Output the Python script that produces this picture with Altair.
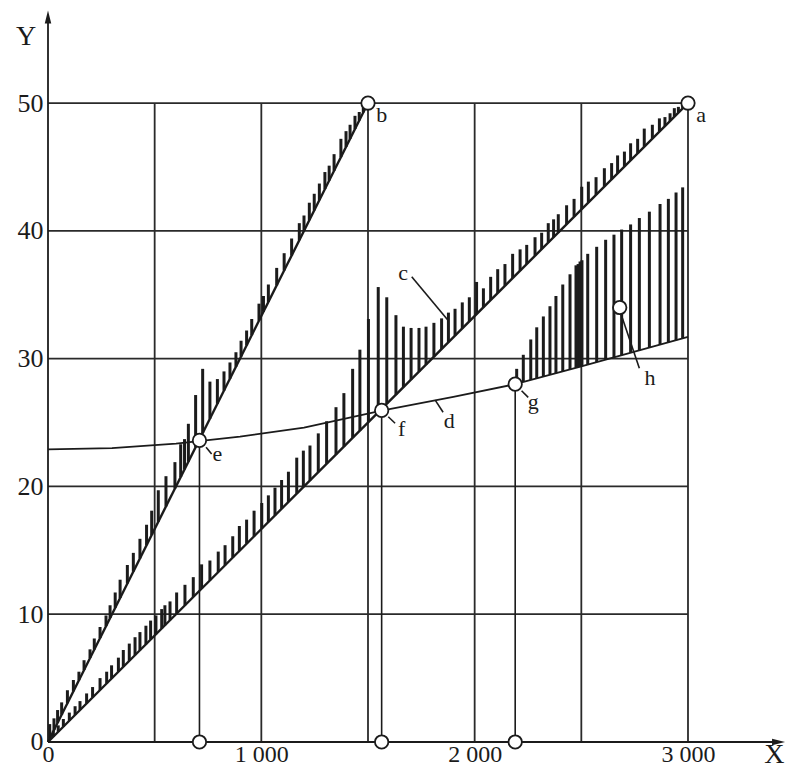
import altair as alt
import pandas as pd

# ---------------- data ----------------
grid_x = [500, 1000, 1500, 2000, 2500, 3000]
grid_y = [10, 20, 30, 40, 50]
x_ticks = [0, 1000, 2000, 3000]
y_ticks = [0, 10, 20, 30, 40, 50]
X_MAX, Y_MAX = 3000, 50
X_AXIS_END, Y_AXIS_END = 3455, 57.25

line_b_x = [0, 1500]
line_b_y = [0, 50]
line_a_x = [0, 3000]
line_a_y = [0, 50]

d_x = [0, 300, 600, 900, 1200, 1564, 1900, 2190, 2500, 2750, 3000]
d_y = [22.9, 23.0, 23.35, 23.9, 24.6, 25.93, 27.0, 28.0, 29.4, 30.55, 31.7]

# hatch bars standing on line 0-b
ub_x = [8, 28, 45, 64, 91, 119, 145, 169, 197, 217, 244, 272, 291, 315, 338, 372, 400, 431,
        462, 486, 517, 553, 595, 622, 640, 658, 692, 725, 759, 794, 825, 853, 881, 905, 931,
        955, 989, 1010, 1033, 1072, 1107, 1142, 1178, 1200, 1225, 1248, 1272, 1298, 1318,
        1341, 1373, 1397, 1416, 1439, 1459, 1478]
ub_top = [1.4, 1.85, 2.5, 3.1, 4.05, 4.85, 5.5, 6.4, 7.25, 8.1, 9.0, 9.9, 10.7, 11.7, 12.7,
          13.85, 14.8, 15.9, 17.0, 18.1, 19.7, 20.8, 21.9, 23.3, 23.7, 24.9, 27.15, 29.2, 28.2,
          28.4, 29.0, 29.7, 30.5, 31.4, 32.2, 33.1, 34.3, 34.9, 35.8, 37.1, 38.25, 39.4, 40.6,
          41.2, 42.2, 42.9, 43.7, 44.6, 45.1, 46.0, 47.2, 47.8, 48.3, 49.0, 49.3, 49.8]

# hatch bars standing on line 0-a (their tops form curve c)
lb_x = [25, 48, 72, 100, 127, 150, 181, 209, 244, 275, 298, 330, 353, 381, 408, 431, 459, 481,
        506, 533, 548, 572, 603, 642, 681, 720, 759, 798, 830, 866, 897, 931, 966, 1002, 1033,
        1064, 1095, 1127, 1166, 1197, 1228, 1267, 1306, 1350, 1387, 1428, 1462, 1502, 1548,
        1588, 1631, 1666, 1702, 1739, 1772, 1809, 1845, 1877, 1908, 1942, 1975, 2009, 2041,
        2075, 2108, 2142, 2178, 2213, 2244, 2283, 2314, 2345, 2370, 2392, 2431, 2466, 2502,
        2533, 2569, 2608, 2642, 2670, 2702, 2731, 2764, 2795, 2833, 2866, 2892, 2916, 2936,
        2955, 2975]
lb_top = [0.9, 1.3, 1.8, 2.3, 2.8, 3.2, 3.8, 4.3, 5.0, 5.5, 6.0, 6.6, 7.2, 7.7, 8.2, 8.6, 9.1,
          9.5, 9.9, 10.4, 10.7, 11.0, 11.7, 12.3, 12.9, 13.9, 14.2, 14.9, 15.4, 16.1, 16.9,
          17.4, 18.1, 18.7, 19.3, 19.9, 20.5, 21.15, 22.25, 22.8, 23.2, 24.15, 25.1, 26.2,
          27.3, 29.2, 30.7, 33.1, 35.6, 34.8, 33.4, 32.5, 32.4, 32.4, 32.5, 32.8, 33.15, 33.6,
          33.9, 34.4, 34.8, 36.0, 35.5, 36.4, 37.0, 37.4, 38.2, 38.55, 38.9, 39.5, 39.85, 40.6,
          40.9, 41.3, 42.0, 42.5, 43.45, 43.85, 44.2, 44.9, 45.3, 45.9, 46.2, 46.85, 47.2, 48.0,
          48.3, 48.8, 48.9, 49.2, 49.6, 49.7, 49.9]

# bars between curve d and the upper edge (g .. h region)
gb_x = [2197, 2228, 2263, 2291, 2322, 2353, 2381, 2413, 2447, 2475, 2485, 2494, 2503, 2530,
        2572, 2614, 2653, 2689, 2731, 2772, 2819, 2869, 2908, 2944, 2975]
gb_bot = [28.03, 28.17, 28.33, 28.46, 28.6, 28.74, 28.86, 29.0, 29.16, 29.29, 29.33, 29.37,
          29.41, 29.54, 29.73, 29.92, 30.1, 30.27, 30.46, 30.65, 30.87, 31.1, 31.28, 31.44, 31.59]
gb_top = [29.2, 30.3, 31.5, 32.45, 33.3, 34.1, 34.9, 35.8, 36.6, 37.3, 37.4, 37.6, 37.7, 38.2,
          38.75, 39.3, 39.7, 40.1, 40.5, 41.0, 41.5, 42.1, 42.5, 43.0, 43.4]

# marked points (circles)
pt_x = [3000, 1500, 710, 1564, 2190, 2680, 710, 1564, 2190]
pt_y = [50, 50, 23.6, 25.95, 28.0, 34.0, 0, 0, 0]

# vertical drop lines from e, f, g
drop_x = [710, 1564, 2190]
drop_y = [23.6, 25.95, 28.0]

# letter labels and their leader lines
lab_text = ["a", "b", "c", "d", "e", "f", "g", "h"]
lab_x = [3061, 1564, 1665, 1881, 794, 1658, 2275, 2822]
lab_y = [49.1, 49.06, 36.72, 25.14, 22.5, 24.5, 26.6, 28.5]

lead_x = [1705, 1815, 741, 1595, 2220, 2686]
lead_y = [36.41, 26.75, 23.06, 25.45, 27.49, 33.5]
lead_x2 = [1875, 1852, 767, 1627, 2251, 2772]
lead_y2 = [33.0, 25.8, 22.54, 24.94, 26.97, 29.24]

axis_name = ["X", "Y"]
axis_name_x = [3405, -103]
axis_name_y = [-1.0, 55.2]

# ---------------- chart ----------------
INK = "#1b1b1b"
FONT = "Liberation Serif"

xs = alt.Scale(domain=[0, 3462.5], nice=False, zero=False)
ys = alt.Scale(domain=[0, 57.28], nice=False, zero=False)
xaxis = alt.Axis(values=x_ticks, labelExpr="replace(format(datum.value, ','), ',', ' ')",
                 title=None, grid=False, domain=False, ticks=False, labelFont=FONT,
                 labelFontSize=24, labelPadding=20, labelBaseline="alphabetic",
                 labelFlush=False, labelColor=INK, labelOverlap=False)
yaxis = alt.Axis(values=y_ticks, title=None, grid=False, domain=False, ticks=False,
                 labelFont=FONT, labelFontSize=26, labelPadding=5, labelColor=INK,
                 labelOverlap=False)


def X(f):
    return alt.X(f, type="quantitative", scale=xs, axis=xaxis)


def Y(f):
    return alt.Y(f, type="quantitative", scale=ys, axis=yaxis)


vgrid = pd.DataFrame({"x": grid_x, "y0": [0] * len(grid_x), "y1": [Y_MAX] * len(grid_x)})
hgrid = pd.DataFrame({"y": grid_y, "x0": [0] * len(grid_y), "x1": [X_MAX] * len(grid_y)})

g1 = alt.Chart(vgrid).mark_rule(color="#2a2a2a", strokeWidth=1.8).encode(
    x=X("x"), y=Y("y0"), y2="y1")
g2 = alt.Chart(hgrid).mark_rule(color="#2a2a2a", strokeWidth=1.8).encode(
    y=Y("y"), x=X("x0"), x2="x1")

axes_df = pd.DataFrame({"x0": [0, 0], "y0": [0, 0], "x1": [X_AXIS_END - 30, 0],
                        "y1": [0, Y_AXIS_END - 0.5]})
ax_lines = alt.Chart(axes_df).mark_rule(color=INK, strokeWidth=1.8).encode(
    x=X("x0"), y=Y("y0"), x2="x1", y2="y1")

arrow_up = alt.Chart(pd.DataFrame({"x": [0], "y": [Y_AXIS_END - 0.51]})).mark_point(
    shape="M0,-1L0.5,1L-0.5,1Z", filled=True, color=INK, size=169, opacity=1).encode(
    x=X("x"), y=Y("y"))
arrow_right = alt.Chart(pd.DataFrame({"x": [X_AXIS_END - 30.5], "y": [0]})).mark_point(
    shape="M1,0L-1,-0.5L-1,0.5Z", filled=True, color=INK, size=169, opacity=1).encode(
    x=X("x"), y=Y("y"))

drops = alt.Chart(pd.DataFrame({"x": drop_x, "y": drop_y, "y0": [0] * len(drop_x)})).mark_rule(
    color=INK, strokeWidth=1.6).encode(x=X("x"), y=Y("y0"), y2="y")

ub = alt.Chart(pd.DataFrame({"x": ub_x, "top": ub_top})).transform_calculate(
    bot=f"datum.x * {line_b_y[1]} / {line_b_x[1]}").mark_rule(
    color=INK, strokeWidth=3).encode(x=X("x"), y=Y("bot"), y2="top")
lb = alt.Chart(pd.DataFrame({"x": lb_x, "top": lb_top})).transform_calculate(
    bot=f"datum.x * {line_a_y[1]} / {line_a_x[1]}").mark_rule(
    color=INK, strokeWidth=3).encode(x=X("x"), y=Y("bot"), y2="top")
gb = alt.Chart(pd.DataFrame({"x": gb_x, "bot": gb_bot, "top": gb_top})).mark_rule(
    color=INK, strokeWidth=3).encode(x=X("x"), y=Y("bot"), y2="top")

lines_df = pd.DataFrame({
    "x": line_b_x + line_a_x,
    "y": line_b_y + line_a_y,
    "k": ["b", "b", "a", "a"],
})
main_lines = alt.Chart(lines_df).mark_line(color=INK, strokeWidth=2.4).encode(
    x=X("x"), y=Y("y"), detail="k:N")

dcurve = alt.Chart(pd.DataFrame({"x": d_x, "y": d_y})).mark_line(
    color=INK, strokeWidth=1.8).encode(x=X("x"), y=Y("y"))

leaders = alt.Chart(pd.DataFrame({"x": lead_x, "y": lead_y, "x2": lead_x2, "y2": lead_y2})).mark_rule(
    color=INK, strokeWidth=1.6).encode(x=X("x"), y=Y("y"), x2="x2", y2="y2")

circles = alt.Chart(pd.DataFrame({"x": pt_x, "y": pt_y})).mark_point(
    shape="circle", filled=True, fill="white", stroke=INK, strokeWidth=1.8, size=180,
    opacity=1).encode(x=X("x"), y=Y("y"))

labels = alt.Chart(pd.DataFrame({"t": lab_text, "x": lab_x, "y": lab_y})).mark_text(
    font=FONT, fontSize=22, color=INK, align="center", baseline="middle").encode(
    x=X("x"), y=Y("y"), text="t:N")

axis_names = alt.Chart(pd.DataFrame({"t": axis_name, "x": axis_name_x, "y": axis_name_y})).mark_text(
    font=FONT, fontSize=28, color=INK, align="center", baseline="middle").encode(
    x=X("x"), y=Y("y"), text="t:N")

chart = alt.layer(
    g1, g2, ax_lines, arrow_up, arrow_right, drops, ub, lb, gb, main_lines, dcurve,
    leaders, circles, labels, axis_names
).properties(
    width=738.67, height=732,
    autosize=alt.AutoSizeParams(type="none"),
    padding={"left": 40, "top": 2, "right": 0, "bottom": 26},
    background="white",
).configure_view(stroke=None)

chart.save("out.html", embed_options={"renderer": "svg", "actions": False})
